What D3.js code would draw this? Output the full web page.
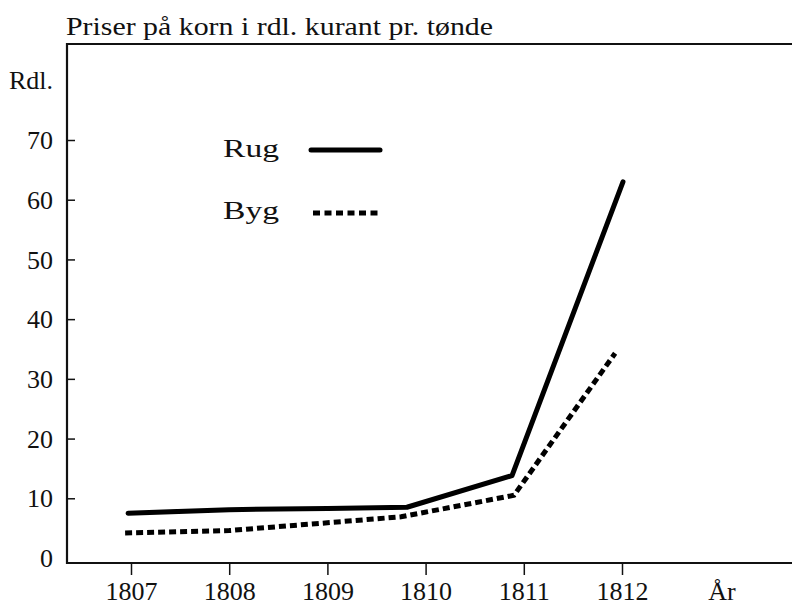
<!DOCTYPE html>
<html>
<head>
<meta charset="utf-8">
<script src="https://cdn.jsdelivr.net/npm/d3@7"></script>
<style>
  html, body { margin: 0; padding: 0; background: #fff; }
  svg { display: block; }
  text { font-family: "Liberation Serif", serif; fill: #111; }
</style>
</head>
<body>
<svg id="chart" width="792" height="607"></svg>
<script>
// ---- data ----
const title = "Priser på korn i rdl. kurant pr. tønde";
const yUnit = "Rdl.";
const xUnit = "År";
const yearTicks = [1807, 1808, 1809, 1810, 1811, 1812];
const valueTicks = [0, 10, 20, 30, 40, 50, 60, 70];
const seriesNames = ["Rug", "Byg"];
// Rug (rye) prices
const rugYears  = [1806.97, 1808.0, 1809.0, 1809.81, 1810.88, 1812.01];
const rugValues = [7.5, 8.1, 8.3, 8.5, 13.8, 63.0];
// Byg (barley) prices
const bygYears  = [1806.94, 1808.0, 1809.0, 1809.75, 1810.9, 1811.93];
const bygValues = [4.2, 4.6, 5.9, 6.9, 10.5, 34.3];

// ---- layout ----
const svg = d3.select("#chart");
const mLeft = 67, mTop = 44, axisBottom = 563, mRight = 792;
const FS = "26px";
const x = d3.scaleLinear().domain([1807, 1812]).range([131, 622]);
const y = d3.scaleLinear().domain([0, 70]).range([558, 140]);

// frame: top line and left/bottom axis lines
svg.append("line").attr("x1", mLeft).attr("x2", mRight).attr("y1", mTop).attr("y2", mTop)
  .attr("stroke", "#111").attr("stroke-width", 2);
svg.append("line").attr("x1", mLeft).attr("x2", mLeft).attr("y1", mTop - 1).attr("y2", axisBottom + 1)
  .attr("stroke", "#111").attr("stroke-width", 2.2);
svg.append("line").attr("x1", mLeft - 1).attr("x2", mRight).attr("y1", axisBottom).attr("y2", axisBottom)
  .attr("stroke", "#111").attr("stroke-width", 2.2);

// y axis
const yAxis = d3.axisRight(y).tickValues(valueTicks).tickSize(8).tickSizeOuter(0).tickFormat(d3.format("d"));
const gy = svg.append("g").attr("transform", `translate(${mLeft},0)`).call(yAxis);
gy.attr("font-family", null).attr("font-size", null);
gy.select(".domain").remove();
gy.selectAll(".tick line").attr("stroke", "#111").attr("stroke-width", 1.5);
gy.selectAll(".tick").filter(d => d === 0).select("line").remove();
gy.selectAll(".tick text").attr("x", -14).attr("text-anchor", "end").attr("dy", "0.33em")
  .style("font-size", FS).attr("fill", "#111");

// x axis
const xAxis = d3.axisBottom(x).tickValues(yearTicks).tickSize(12).tickSizeOuter(0).tickFormat(d3.format("d"));
const gx = svg.append("g").attr("transform", `translate(0,${axisBottom})`).call(xAxis);
gx.attr("font-family", null).attr("font-size", null);
gx.select(".domain").remove();
gx.selectAll(".tick line").attr("stroke", "#111").attr("stroke-width", 1.5);
gx.selectAll(".tick text").attr("y", 37).attr("dy", 0)
  .style("font-size", FS).attr("fill", "#111");

// unit labels
svg.append("text").attr("x", 722).attr("y", axisBottom + 37).attr("text-anchor", "middle")
  .style("font-size", FS).text(xUnit);
svg.append("text").attr("x", 53).attr("y", 89).attr("text-anchor", "end")
  .style("font-size", FS).text(yUnit);
svg.append("text").attr("x", 66).attr("y", 35)
  .style("font-size", "25px").attr("textLength", 427).attr("lengthAdjust", "spacingAndGlyphs").text(title);

// lines
const line = d3.line().x(d => x(d[0])).y(d => y(d[1]));
const rug = rugYears.map((yr, i) => [yr, rugValues[i]]);
const byg = bygYears.map((yr, i) => [yr, bygValues[i]]);
svg.append("path").datum(rug).attr("d", line).attr("fill", "none").attr("stroke", "#000")
  .attr("stroke-width", 5).attr("stroke-linejoin", "round").attr("stroke-linecap", "round");
svg.append("path").datum(byg).attr("d", line).attr("fill", "none").attr("stroke", "#000")
  .attr("stroke-width", 5).attr("stroke-dasharray", "7,4").attr("stroke-linecap", "butt");

// legend
const legend = svg.append("g");
legend.append("text").attr("x", 223).attr("y", 157).style("font-size", FS)
  .attr("textLength", 56).attr("lengthAdjust", "spacingAndGlyphs").text(seriesNames[0]);
legend.append("line").attr("x1", 311).attr("x2", 380).attr("y1", 150).attr("y2", 150)
  .attr("stroke", "#000").attr("stroke-width", 5).attr("stroke-linecap", "round");
legend.append("text").attr("x", 223).attr("y", 219).style("font-size", FS)
  .attr("textLength", 56).attr("lengthAdjust", "spacingAndGlyphs").text(seriesNames[1]);
legend.append("line").attr("x1", 313).attr("x2", 382).attr("y1", 213).attr("y2", 213)
  .attr("stroke", "#000").attr("stroke-width", 5).attr("stroke-dasharray", "7,4.5");
</script>
</body>
</html>
